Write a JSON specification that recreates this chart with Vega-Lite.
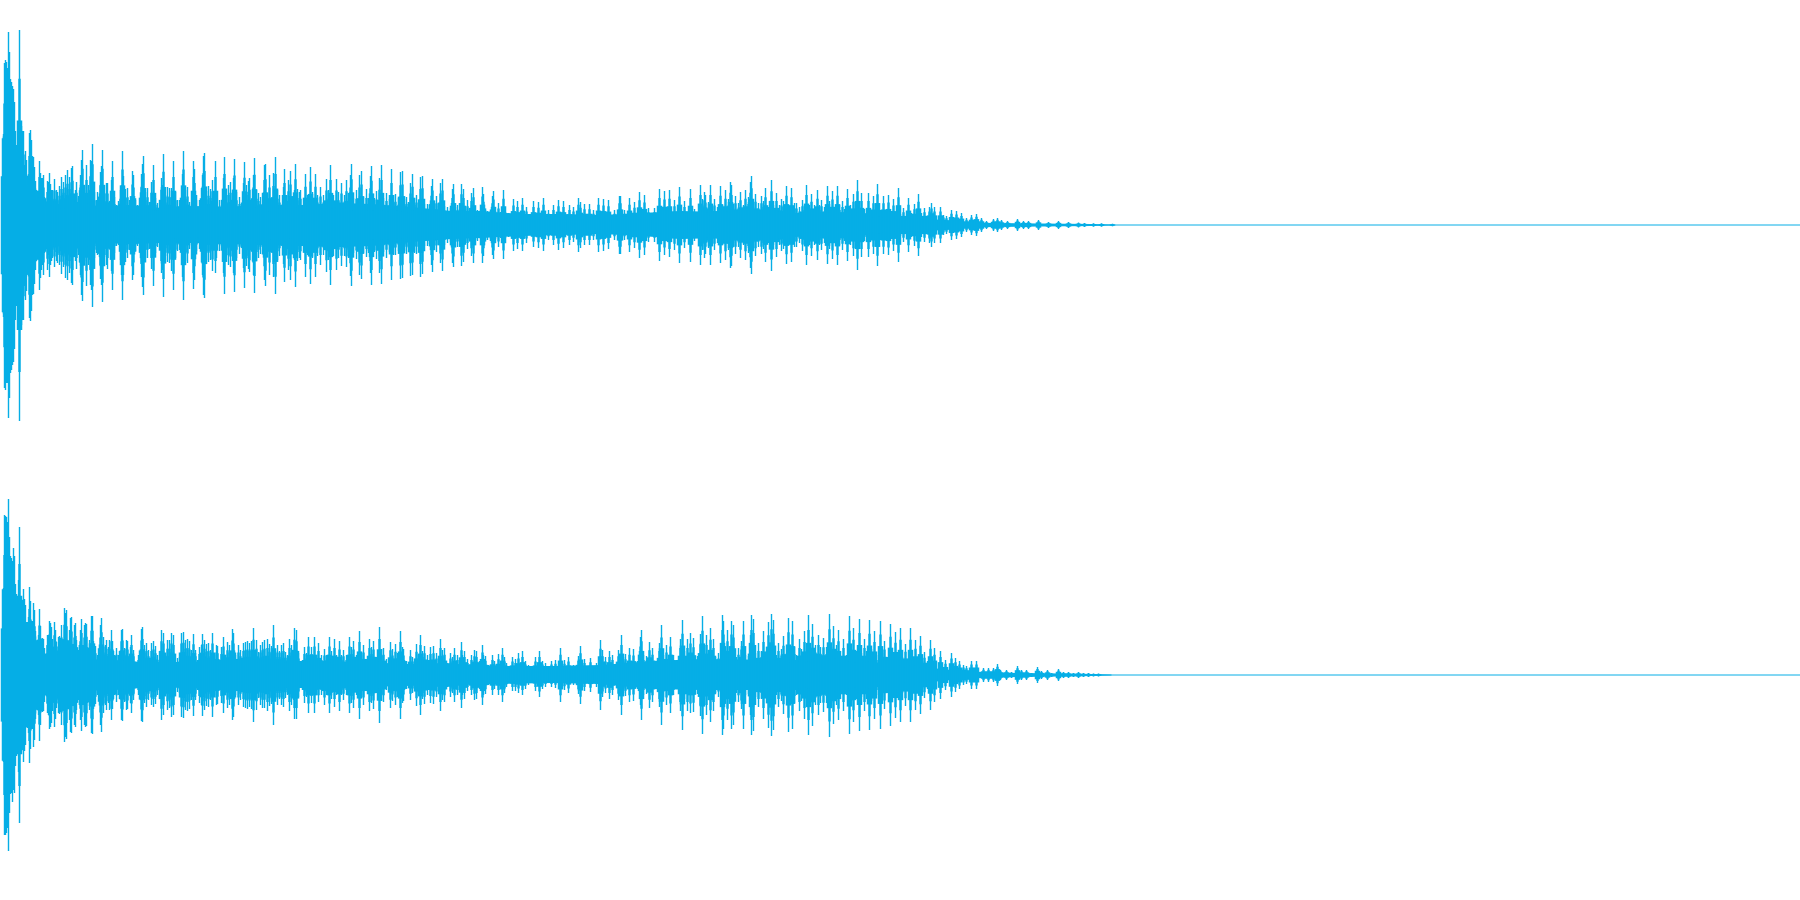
{"$schema":"https://vega.github.io/schema/vega-lite/v6.json","padding":0,"background":"#ffffff","spacing":0,"config":{"view":{"stroke":null},"concat":{"spacing":0}},
"datasets":{
"core1":[{"x":0,"h":1,"l":-1},{"x":1,"h":12,"l":-13},{"x":15,"h":40,"l":-40},{"x":30,"h":25,"l":-25},{"x":45,"h":19,"l":-19},{"x":70,"h":21,"l":-21},{"x":100,"h":19,"l":-18},{"x":130,"h":20,"l":-19},{"x":160,"h":17,"l":-18},{"x":190,"h":19,"l":-18},{"x":220,"h":18,"l":-19},{"x":260,"h":20,"l":-20},{"x":300,"h":20,"l":-21},{"x":340,"h":22,"l":-22},{"x":370,"h":21,"l":-21},{"x":410,"h":18,"l":-17},{"x":450,"h":14,"l":-14},{"x":480,"h":14,"l":-13},{"x":520,"h":11,"l":-11},{"x":560,"h":11,"l":-10},{"x":600,"h":10,"l":-9},{"x":640,"h":12,"l":-11},{"x":680,"h":14,"l":-14},{"x":720,"h":13,"l":-13},{"x":780,"h":12,"l":-11},{"x":840,"h":12,"l":-11},{"x":880,"h":11,"l":-10},{"x":910,"h":8,"l":-8},{"x":940,"h":5,"l":-5},{"x":960,"h":3,"l":-3},{"x":990,"h":2,"l":-2},{"x":1040,"h":1.5,"l":-1.5},{"x":1090,"h":1,"l":-1},{"x":1110,"h":0.5,"l":-0.5}],
"core2":[{"x":0,"h":1,"l":-1},{"x":1,"h":13,"l":-14},{"x":15,"h":40,"l":-40},{"x":30,"h":24,"l":-24},{"x":45,"h":14,"l":-14},{"x":70,"h":15,"l":-15},{"x":100,"h":14,"l":-14},{"x":150,"h":13,"l":-13},{"x":200,"h":13,"l":-12},{"x":250,"h":14,"l":-13},{"x":300,"h":14,"l":-13},{"x":350,"h":13,"l":-12},{"x":400,"h":11,"l":-11},{"x":450,"h":11,"l":-10},{"x":500,"h":9,"l":-9},{"x":550,"h":9,"l":-8},{"x":600,"h":10,"l":-9},{"x":650,"h":14,"l":-14},{"x":700,"h":16,"l":-15},{"x":780,"h":15,"l":-15},{"x":850,"h":15,"l":-14},{"x":890,"h":11,"l":-11},{"x":920,"h":8,"l":-8},{"x":950,"h":5,"l":-5},{"x":980,"h":3,"l":-3},{"x":1020,"h":2,"l":-2},{"x":1060,"h":1.5,"l":-1.5},{"x":1090,"h":1,"l":-1},{"x":1110,"h":0.5,"l":-0.5}],
"s1":[{"x":2,"h":91,"l":-92},{"x":3,"h":162,"l":-163},{"x":4,"h":165,"l":-165},{"x":5,"h":163,"l":-158},{"x":6,"h":157,"l":-158},{"x":7,"h":193,"l":-193},{"x":8,"h":173,"l":-173},{"x":9,"h":146,"l":-148},{"x":10,"h":143,"l":-145},{"x":11,"h":139,"l":-140},{"x":12,"h":136,"l":-137},{"x":13,"h":123,"l":-124},{"x":14,"h":94,"l":-95},{"x":15,"h":80,"l":-81},{"x":16,"h":73,"l":-74},{"x":17,"h":96,"l":-98},{"x":18,"h":195,"l":-196},{"x":19,"h":88,"l":-89},{"x":20,"h":99,"l":-100},{"x":21,"h":94,"l":-95},{"x":22,"h":94,"l":-95},{"x":23,"h":60,"l":-61},{"x":24,"h":74,"l":-75},{"x":25,"h":65,"l":-66},{"x":26,"h":40,"l":-41},{"x":27,"h":39,"l":-40},{"x":28,"h":92,"l":-93},{"x":29,"h":95,"l":-96},{"x":30,"h":85,"l":-86},{"x":31,"h":69,"l":-70},{"x":32,"h":68,"l":-69},{"x":33,"h":58,"l":-59},{"x":34,"h":44,"l":-45},{"x":35,"h":35,"l":-36},{"x":36,"h":25,"l":-26},{"x":37,"h":27,"l":-27},{"x":38,"h":64,"l":-65},{"x":39,"h":52,"l":-53},{"x":40,"h":47,"l":-45},{"x":41,"h":47,"l":-40},{"x":42,"h":50,"l":-50},{"x":43,"h":28,"l":-28},{"x":44,"h":18,"l":-18},{"x":46,"h":44,"l":-45},{"x":47,"h":43,"l":-30},{"x":48,"h":52,"l":-52},{"x":49,"h":41,"l":-40},{"x":50,"h":35,"l":-36},{"x":51,"h":35,"l":-33},{"x":53,"h":46,"l":-42},{"x":55,"h":35,"l":-36},{"x":56,"h":33,"l":-38},{"x":58,"h":39,"l":-40},{"x":60,"h":48,"l":-49},{"x":61,"h":30,"l":-30},{"x":62,"h":43,"l":-42},{"x":64,"h":50,"l":-53},{"x":65,"h":30,"l":-35},{"x":66,"h":55,"l":-55},{"x":68,"h":48,"l":-48},{"x":70,"h":57,"l":-58},{"x":71,"h":59,"l":-60},{"x":73,"h":23,"l":-23},{"x":74,"h":35,"l":-36},{"x":75,"h":43,"l":-44},{"x":77,"h":29,"l":-30},{"x":79,"h":50,"l":-50},{"x":80,"h":65,"l":-70},{"x":81,"h":75,"l":-76},{"x":83,"h":35,"l":-36},{"x":85,"h":60,"l":-61},{"x":87,"h":40,"l":-40},{"x":89,"h":65,"l":-60},{"x":90,"h":64,"l":-65},{"x":91,"h":81,"l":-82},{"x":93,"h":33,"l":-33},{"x":95,"h":25,"l":-28},{"x":96,"h":33,"l":-30},{"x":98,"h":20,"l":-24},{"x":99,"h":53,"l":-54},{"x":100,"h":59,"l":-60},{"x":101,"h":75,"l":-77},{"x":103,"h":32,"l":-32},{"x":105,"h":42,"l":-40},{"x":106,"h":42,"l":-44},{"x":108,"h":22,"l":-24},{"x":110,"h":45,"l":-46},{"x":111,"h":64,"l":-65},{"x":113,"h":28,"l":-28},{"x":115,"h":20,"l":-21},{"x":117,"h":24,"l":-20},{"x":119,"h":35,"l":-35},{"x":120,"h":40,"l":-50},{"x":121,"h":74,"l":-75},{"x":122,"h":49,"l":-50},{"x":124,"h":36,"l":-37},{"x":126,"h":37,"l":-33},{"x":128,"h":25,"l":-25},{"x":130,"h":25,"l":-25},{"x":131,"h":54,"l":-55},{"x":132,"h":50,"l":-50},{"x":134,"h":25,"l":-26},{"x":136,"h":20,"l":-21},{"x":138,"h":20,"l":-19},{"x":140,"h":51,"l":-52},{"x":141,"h":61,"l":-62},{"x":142,"h":69,"l":-70},{"x":144,"h":33,"l":-33},{"x":146,"h":37,"l":-33},{"x":148,"h":23,"l":-24},{"x":150,"h":43,"l":-44},{"x":152,"h":60,"l":-61},{"x":154,"h":27,"l":-28},{"x":156,"h":22,"l":-22},{"x":158,"h":17,"l":-18},{"x":160,"h":47,"l":-48},{"x":161,"h":40,"l":-45},{"x":162,"h":71,"l":-72},{"x":164,"h":30,"l":-31},{"x":166,"h":38,"l":-37},{"x":168,"h":37,"l":-38},{"x":170,"h":37,"l":-46},{"x":172,"h":64,"l":-65},{"x":174,"h":33,"l":-33},{"x":176,"h":25,"l":-26},{"x":178,"h":25,"l":-25},{"x":180,"h":14,"l":-15},{"x":181,"h":51,"l":-52},{"x":182,"h":74,"l":-75},{"x":184,"h":35,"l":-36},{"x":186,"h":38,"l":-38},{"x":188,"h":23,"l":-24},{"x":191,"h":22,"l":-22},{"x":192,"h":64,"l":-64},{"x":193,"h":56,"l":-55},{"x":195,"h":25,"l":-26},{"x":198,"h":25,"l":-24},{"x":201,"h":50,"l":-50},{"x":202,"h":69,"l":-70},{"x":203,"h":72,"l":-73},{"x":205,"h":34,"l":-35},{"x":207,"h":39,"l":-37},{"x":209,"h":36,"l":-35},{"x":211,"h":45,"l":-46},{"x":212,"h":24,"l":-24},{"x":214,"h":64,"l":-48},{"x":215,"h":33,"l":-33},{"x":218,"h":25,"l":-26},{"x":220,"h":20,"l":-21},{"x":222,"h":47,"l":-48},{"x":223,"h":68,"l":-69},{"x":225,"h":30,"l":-31},{"x":227,"h":40,"l":-40},{"x":229,"h":43,"l":-42},{"x":232,"h":47,"l":-48},{"x":233,"h":66,"l":-67},{"x":235,"h":33,"l":-33},{"x":238,"h":28,"l":-29},{"x":240,"h":18,"l":-19},{"x":242,"h":42,"l":-43},{"x":243,"h":63,"l":-63},{"x":245,"h":40,"l":-41},{"x":247,"h":44,"l":-44},{"x":248,"h":47,"l":-47},{"x":250,"h":25,"l":-26},{"x":252,"h":50,"l":-50},{"x":253,"h":67,"l":-68},{"x":255,"h":35,"l":-36},{"x":257,"h":32,"l":-33},{"x":259,"h":28,"l":-29},{"x":263,"h":60,"l":-55},{"x":264,"h":61,"l":-61},{"x":266,"h":31,"l":-32},{"x":268,"h":50,"l":-50},{"x":270,"h":26,"l":-27},{"x":272,"h":52,"l":-52},{"x":274,"h":68,"l":-69},{"x":276,"h":35,"l":-35},{"x":278,"h":30,"l":-31},{"x":280,"h":20,"l":-20},{"x":282,"h":38,"l":-39},{"x":283,"h":56,"l":-57},{"x":285,"h":30,"l":-30},{"x":287,"h":45,"l":-45},{"x":289,"h":54,"l":-55},{"x":291,"h":25,"l":-26},{"x":293,"h":35,"l":-35},{"x":294,"h":61,"l":-62},{"x":296,"h":36,"l":-36},{"x":298,"h":33,"l":-33},{"x":299,"h":35,"l":-35},{"x":304,"h":51,"l":-52},{"x":306,"h":30,"l":-30},{"x":309,"h":58,"l":-59},{"x":311,"h":33,"l":-33},{"x":314,"h":51,"l":-52},{"x":316,"h":30,"l":-31},{"x":319,"h":38,"l":-40},{"x":322,"h":30,"l":-30},{"x":325,"h":46,"l":-47},{"x":327,"h":35,"l":-35},{"x":329,"h":60,"l":-60},{"x":332,"h":30,"l":-31},{"x":335,"h":46,"l":-45},{"x":337,"h":33,"l":-33},{"x":340,"h":42,"l":-41},{"x":343,"h":30,"l":-31},{"x":345,"h":45,"l":-42},{"x":347,"h":32,"l":-33},{"x":349,"h":50,"l":-51},{"x":350,"h":61,"l":-61},{"x":352,"h":27,"l":-28},{"x":355,"h":35,"l":-34},{"x":358,"h":50,"l":-50},{"x":360,"h":54,"l":-54},{"x":362,"h":28,"l":-28},{"x":365,"h":36,"l":-32},{"x":367,"h":27,"l":-28},{"x":369,"h":49,"l":-48},{"x":370,"h":59,"l":-60},{"x":373,"h":27,"l":-27},{"x":375,"h":34,"l":-34},{"x":378,"h":47,"l":-48},{"x":380,"h":60,"l":-59},{"x":382,"h":27,"l":-27},{"x":385,"h":32,"l":-33},{"x":388,"h":26,"l":-27},{"x":390,"h":56,"l":-55},{"x":392,"h":30,"l":-30},{"x":394,"h":31,"l":-30},{"x":397,"h":27,"l":-26},{"x":399,"h":53,"l":-54},{"x":401,"h":54,"l":-53},{"x":403,"h":26,"l":-26},{"x":405,"h":28,"l":-29},{"x":407,"h":23,"l":-23},{"x":409,"h":42,"l":-51},{"x":411,"h":51,"l":-50},{"x":413,"h":27,"l":-28},{"x":415,"h":30,"l":-29},{"x":418,"h":22,"l":-22},{"x":419,"h":48,"l":-52},{"x":421,"h":49,"l":-49},{"x":423,"h":21,"l":-21},{"x":426,"h":21,"l":-21},{"x":428,"h":20,"l":-19},{"x":430,"h":39,"l":-40},{"x":431,"h":46,"l":-47},{"x":433,"h":21,"l":-21},{"x":435,"h":29,"l":-27},{"x":437,"h":19,"l":-19},{"x":439,"h":42,"l":-38},{"x":441,"h":46,"l":-46},{"x":443,"h":19,"l":-20},{"x":446,"h":18,"l":-18},{"x":449,"h":17,"l":-17},{"x":451,"h":36,"l":-38},{"x":452,"h":41,"l":-42},{"x":454,"h":18,"l":-17},{"x":456,"h":20,"l":-22},{"x":458,"h":16,"l":-16},{"x":460,"h":41,"l":-41},{"x":462,"h":36,"l":-37},{"x":464,"h":16,"l":-16},{"x":466,"h":25,"l":-24},{"x":468,"h":16,"l":-15},{"x":470,"h":32,"l":-31},{"x":472,"h":37,"l":-38},{"x":474,"h":15,"l":-15},{"x":476,"h":15,"l":-16},{"x":479,"h":15,"l":-14},{"x":481,"h":38,"l":-38},{"x":482,"h":31,"l":-31},{"x":484,"h":15,"l":-15},{"x":486,"h":14,"l":-15},{"x":489,"h":14,"l":-14},{"x":491,"h":29,"l":-30},{"x":492,"h":34,"l":-34},{"x":494,"h":14,"l":-14},{"x":497,"h":22,"l":-22},{"x":499,"h":13,"l":-13},{"x":502,"h":35,"l":-34},{"x":504,"h":13,"l":-13},{"x":507,"h":12,"l":-12},{"x":512,"h":26,"l":-26},{"x":514,"h":13,"l":-13},{"x":516,"h":24,"l":-24},{"x":519,"h":13,"l":-13},{"x":521,"h":27,"l":-26},{"x":525,"h":18,"l":-18},{"x":532,"h":24,"l":-22},{"x":537,"h":23,"l":-23},{"x":542,"h":27,"l":-26},{"x":547,"h":15,"l":-15},{"x":552,"h":20,"l":-20},{"x":557,"h":25,"l":-25},{"x":562,"h":24,"l":-23},{"x":568,"h":20,"l":-20},{"x":572,"h":18,"l":-17},{"x":577,"h":27,"l":-27},{"x":579,"h":23,"l":-23},{"x":583,"h":21,"l":-20},{"x":588,"h":21,"l":-20},{"x":592,"h":15,"l":-15},{"x":597,"h":27,"l":-27},{"x":602,"h":26,"l":-26},{"x":607,"h":25,"l":-24},{"x":613,"h":15,"l":-15},{"x":618,"h":29,"l":-29},{"x":619,"h":29,"l":-29},{"x":623,"h":15,"l":-15},{"x":628,"h":27,"l":-27},{"x":633,"h":23,"l":-23},{"x":638,"h":33,"l":-33},{"x":643,"h":30,"l":-30},{"x":647,"h":17,"l":-17},{"x":653,"h":17,"l":-17},{"x":658,"h":36,"l":-36},{"x":663,"h":34,"l":-30},{"x":668,"h":35,"l":-32},{"x":673,"h":25,"l":-25},{"x":678,"h":38,"l":-38},{"x":683,"h":24,"l":-23},{"x":689,"h":36,"l":-37},{"x":693,"h":16,"l":-16},{"x":699,"h":40,"l":-40},{"x":701,"h":26,"l":-25},{"x":703,"h":33,"l":-33},{"x":704,"h":30,"l":-29},{"x":707,"h":23,"l":-23},{"x":709,"h":40,"l":-40},{"x":711,"h":18,"l":-18},{"x":713,"h":26,"l":-25},{"x":716,"h":18,"l":-18},{"x":719,"h":39,"l":-38},{"x":721,"h":20,"l":-20},{"x":724,"h":35,"l":-35},{"x":727,"h":26,"l":-25},{"x":729,"h":43,"l":-43},{"x":730,"h":40,"l":-41},{"x":732,"h":17,"l":-18},{"x":734,"h":29,"l":-29},{"x":737,"h":22,"l":-22},{"x":739,"h":33,"l":-33},{"x":742,"h":20,"l":-20},{"x":744,"h":35,"l":-35},{"x":747,"h":28,"l":-28},{"x":749,"h":43,"l":-43},{"x":750,"h":49,"l":-49},{"x":752,"h":18,"l":-18},{"x":754,"h":31,"l":-31},{"x":757,"h":22,"l":-22},{"x":760,"h":29,"l":-29},{"x":762,"h":24,"l":-24},{"x":764,"h":37,"l":-37},{"x":767,"h":18,"l":-18},{"x":770,"h":45,"l":-46},{"x":772,"h":20,"l":-20},{"x":775,"h":32,"l":-32},{"x":778,"h":20,"l":-20},{"x":780,"h":26,"l":-26},{"x":782,"h":24,"l":-24},{"x":785,"h":39,"l":-39},{"x":787,"h":20,"l":-20},{"x":790,"h":37,"l":-37},{"x":793,"h":22,"l":-22},{"x":795,"h":22,"l":-22},{"x":798,"h":18,"l":-18},{"x":801,"h":25,"l":-26},{"x":803,"h":20,"l":-20},{"x":805,"h":40,"l":-40},{"x":808,"h":20,"l":-20},{"x":810,"h":31,"l":-31},{"x":813,"h":20,"l":-20},{"x":816,"h":35,"l":-35},{"x":818,"h":20,"l":-20},{"x":820,"h":25,"l":-25},{"x":823,"h":18,"l":-18},{"x":826,"h":39,"l":-39},{"x":828,"h":24,"l":-24},{"x":831,"h":34,"l":-34},{"x":834,"h":18,"l":-18},{"x":836,"h":39,"l":-40},{"x":838,"h":20,"l":-20},{"x":841,"h":24,"l":-25},{"x":843,"h":16,"l":-16},{"x":846,"h":36,"l":-36},{"x":849,"h":20,"l":-20},{"x":852,"h":31,"l":-31},{"x":854,"h":16,"l":-16},{"x":856,"h":45,"l":-45},{"x":858,"h":18,"l":-18},{"x":860,"h":32,"l":-32},{"x":863,"h":16,"l":-16},{"x":867,"h":32,"l":-32},{"x":869,"h":15,"l":-15},{"x":872,"h":29,"l":-29},{"x":874,"h":14,"l":-14},{"x":876,"h":41,"l":-41},{"x":879,"h":15,"l":-15},{"x":882,"h":29,"l":-29},{"x":884,"h":14,"l":-14},{"x":887,"h":30,"l":-30},{"x":890,"h":14,"l":-14},{"x":892,"h":26,"l":-26},{"x":894,"h":12,"l":-12},{"x":897,"h":37,"l":-37},{"x":899,"h":11,"l":-11},{"x":902,"h":17,"l":-17},{"x":907,"h":27,"l":-27},{"x":910,"h":12,"l":-12},{"x":913,"h":21,"l":-21},{"x":917,"h":31,"l":-31},{"x":920,"h":12,"l":-12},{"x":923,"h":17,"l":-17},{"x":928,"h":18,"l":-18},{"x":930,"h":22,"l":-22},{"x":933,"h":18,"l":-18},{"x":939,"h":18,"l":-18},{"x":942,"h":10,"l":-10},{"x":945,"h":9,"l":-9},{"x":950,"h":15,"l":-15},{"x":955,"h":14,"l":-14},{"x":960,"h":12,"l":-12},{"x":965,"h":7,"l":-7},{"x":970,"h":10,"l":-10},{"x":975,"h":11,"l":-11},{"x":980,"h":7,"l":-7},{"x":985,"h":4,"l":-4},{"x":992,"h":6,"l":-6},{"x":996,"h":7,"l":-7},{"x":1000,"h":5,"l":-5},{"x":1006,"h":4,"l":-4},{"x":1016,"h":6,"l":-6},{"x":1022,"h":4,"l":-4},{"x":1027,"h":4,"l":-4},{"x":1037,"h":5,"l":-5},{"x":1047,"h":3,"l":-3},{"x":1057,"h":4,"l":-4},{"x":1067,"h":3,"l":-3},{"x":1077,"h":2.5,"l":-2.5},{"x":1083,"h":2,"l":-2},{"x":1092,"h":1.7,"l":-1.7},{"x":1100,"h":1.7,"l":-1.7},{"x":1111,"h":1.3,"l":-1.3}],
"s2":[{"x":2,"h":87,"l":-87},{"x":3,"h":160,"l":-160},{"x":4,"h":159,"l":-160},{"x":5,"h":158,"l":-158},{"x":6,"h":153,"l":-153},{"x":7,"h":176,"l":-176},{"x":8,"h":138,"l":-138},{"x":9,"h":119,"l":-119},{"x":10,"h":117,"l":-118},{"x":11,"h":114,"l":-127},{"x":12,"h":127,"l":-115},{"x":13,"h":119,"l":-118},{"x":14,"h":91,"l":-91},{"x":15,"h":81,"l":-81},{"x":16,"h":72,"l":-73},{"x":17,"h":95,"l":-97},{"x":18,"h":148,"l":-148},{"x":19,"h":72,"l":-72},{"x":20,"h":76,"l":-76},{"x":21,"h":75,"l":-75},{"x":22,"h":86,"l":-87},{"x":23,"h":76,"l":-76},{"x":24,"h":70,"l":-70},{"x":25,"h":53,"l":-52},{"x":26,"h":53,"l":-53},{"x":27,"h":58,"l":-58},{"x":28,"h":88,"l":-88},{"x":29,"h":74,"l":-74},{"x":30,"h":54,"l":-54},{"x":31,"h":54,"l":-54},{"x":32,"h":72,"l":-72},{"x":33,"h":65,"l":-65},{"x":34,"h":44,"l":-44},{"x":35,"h":32,"l":-32},{"x":36,"h":33,"l":-33},{"x":37,"h":40,"l":-40},{"x":38,"h":66,"l":-66},{"x":39,"h":49,"l":-50},{"x":40,"h":36,"l":-36},{"x":41,"h":37,"l":-37},{"x":42,"h":36,"l":-36},{"x":43,"h":27,"l":-27},{"x":44,"h":20,"l":-20},{"x":46,"h":40,"l":-38},{"x":47,"h":40,"l":-40},{"x":48,"h":54,"l":-54},{"x":49,"h":52,"l":-52},{"x":50,"h":48,"l":-48},{"x":51,"h":36,"l":-36},{"x":52,"h":27,"l":-27},{"x":53,"h":53,"l":-52},{"x":54,"h":45,"l":-44},{"x":55,"h":33,"l":-33},{"x":57,"h":38,"l":-38},{"x":58,"h":39,"l":-39},{"x":59,"h":37,"l":-37},{"x":60,"h":50,"l":-50},{"x":61,"h":28,"l":-28},{"x":62,"h":27,"l":-27},{"x":63,"h":67,"l":-67},{"x":64,"h":62,"l":-62},{"x":65,"h":65,"l":-64},{"x":66,"h":30,"l":-30},{"x":67,"h":30,"l":-30},{"x":68,"h":45,"l":-45},{"x":69,"h":57,"l":-57},{"x":70,"h":58,"l":-58},{"x":72,"h":23,"l":-23},{"x":73,"h":50,"l":-50},{"x":74,"h":52,"l":-52},{"x":75,"h":35,"l":-35},{"x":77,"h":25,"l":-25},{"x":78,"h":30,"l":-30},{"x":79,"h":45,"l":-45},{"x":80,"h":56,"l":-56},{"x":82,"h":30,"l":-30},{"x":83,"h":50,"l":-50},{"x":84,"h":52,"l":-52},{"x":85,"h":51,"l":-51},{"x":88,"h":35,"l":-35},{"x":89,"h":22,"l":-22},{"x":90,"h":59,"l":-58},{"x":91,"h":59,"l":-59},{"x":92,"h":34,"l":-34},{"x":94,"h":29,"l":-29},{"x":96,"h":20,"l":-20},{"x":98,"h":24,"l":-24},{"x":99,"h":50,"l":-50},{"x":100,"h":57,"l":-57},{"x":102,"h":38,"l":-38},{"x":104,"h":30,"l":-30},{"x":105,"h":35,"l":-35},{"x":107,"h":28,"l":-28},{"x":108,"h":35,"l":-35},{"x":110,"h":45,"l":-45},{"x":111,"h":34,"l":-34},{"x":113,"h":20,"l":-20},{"x":114,"h":19,"l":-19},{"x":115,"h":27,"l":-27},{"x":117,"h":20,"l":-20},{"x":119,"h":22,"l":-22},{"x":120,"h":45,"l":-45},{"x":121,"h":46,"l":-46},{"x":123,"h":27,"l":-27},{"x":125,"h":35,"l":-35},{"x":126,"h":34,"l":-34},{"x":128,"h":18,"l":-18},{"x":129,"h":28,"l":-28},{"x":130,"h":40,"l":-38},{"x":132,"h":25,"l":-25},{"x":137,"h":20,"l":-20},{"x":140,"h":46,"l":-46},{"x":141,"h":48,"l":-47},{"x":143,"h":30,"l":-28},{"x":145,"h":32,"l":-32},{"x":147,"h":25,"l":-25},{"x":150,"h":32,"l":-30},{"x":152,"h":34,"l":-32},{"x":154,"h":29,"l":-29},{"x":156,"h":20,"l":-20},{"x":160,"h":45,"l":-45},{"x":162,"h":42,"l":-40},{"x":164,"h":20,"l":-20},{"x":166,"h":35,"l":-35},{"x":168,"h":35,"l":-33},{"x":170,"h":42,"l":-42},{"x":172,"h":40,"l":-40},{"x":176,"h":17,"l":-17},{"x":178,"h":18,"l":-18},{"x":180,"h":42,"l":-42},{"x":182,"h":43,"l":-43},{"x":184,"h":35,"l":-35},{"x":186,"h":36,"l":-36},{"x":188,"h":34,"l":-34},{"x":190,"h":25,"l":-25},{"x":192,"h":41,"l":-41},{"x":194,"h":25,"l":-25},{"x":198,"h":28,"l":-28},{"x":200,"h":30,"l":-30},{"x":201,"h":41,"l":-41},{"x":203,"h":35,"l":-35},{"x":205,"h":31,"l":-31},{"x":207,"h":32,"l":-32},{"x":209,"h":25,"l":-25},{"x":211,"h":42,"l":-42},{"x":213,"h":20,"l":-20},{"x":215,"h":30,"l":-30},{"x":216,"h":29,"l":-29},{"x":220,"h":28,"l":-28},{"x":222,"h":38,"l":-38},{"x":224,"h":20,"l":-20},{"x":226,"h":33,"l":-33},{"x":228,"h":30,"l":-30},{"x":231,"h":46,"l":-45},{"x":232,"h":42,"l":-42},{"x":234,"h":20,"l":-20},{"x":237,"h":30,"l":-30},{"x":239,"h":25,"l":-25},{"x":242,"h":32,"l":-32},{"x":244,"h":33,"l":-33},{"x":246,"h":34,"l":-34},{"x":248,"h":32,"l":-32},{"x":250,"h":34,"l":-34},{"x":252,"h":47,"l":-47},{"x":255,"h":35,"l":-35},{"x":257,"h":23,"l":-23},{"x":259,"h":30,"l":-30},{"x":261,"h":33,"l":-33},{"x":263,"h":35,"l":-33},{"x":266,"h":36,"l":-36},{"x":268,"h":31,"l":-31},{"x":270,"h":29,"l":-29},{"x":272,"h":50,"l":-50},{"x":274,"h":24,"l":-24},{"x":276,"h":30,"l":-30},{"x":278,"h":24,"l":-24},{"x":280,"h":30,"l":-30},{"x":282,"h":32,"l":-32},{"x":284,"h":23,"l":-23},{"x":286,"h":20,"l":-20},{"x":288,"h":36,"l":-36},{"x":290,"h":30,"l":-30},{"x":292,"h":25,"l":-25},{"x":293,"h":47,"l":-44},{"x":295,"h":45,"l":-44},{"x":297,"h":22,"l":-22},{"x":303,"h":28,"l":-28},{"x":305,"h":22,"l":-22},{"x":307,"h":38,"l":-38},{"x":310,"h":28,"l":-28},{"x":313,"h":38,"l":-38},{"x":315,"h":20,"l":-20},{"x":317,"h":32,"l":-27},{"x":320,"h":20,"l":-20},{"x":323,"h":26,"l":-30},{"x":325,"h":20,"l":-20},{"x":328,"h":38,"l":-38},{"x":330,"h":24,"l":-24},{"x":333,"h":36,"l":-32},{"x":335,"h":20,"l":-20},{"x":338,"h":34,"l":-36},{"x":340,"h":20,"l":-20},{"x":342,"h":25,"l":-25},{"x":345,"h":20,"l":-20},{"x":348,"h":38,"l":-38},{"x":350,"h":28,"l":-28},{"x":352,"h":34,"l":-33},{"x":355,"h":20,"l":-20},{"x":358,"h":44,"l":-44},{"x":360,"h":20,"l":-20},{"x":362,"h":30,"l":-30},{"x":365,"h":16,"l":-16},{"x":368,"h":36,"l":-36},{"x":370,"h":28,"l":-28},{"x":372,"h":34,"l":-34},{"x":375,"h":18,"l":-18},{"x":378,"h":48,"l":-48},{"x":380,"h":26,"l":-26},{"x":382,"h":27,"l":-27},{"x":385,"h":16,"l":-15},{"x":389,"h":33,"l":-33},{"x":391,"h":26,"l":-26},{"x":394,"h":31,"l":-30},{"x":396,"h":22,"l":-22},{"x":399,"h":44,"l":-44},{"x":401,"h":28,"l":-28},{"x":402,"h":26,"l":-26},{"x":405,"h":14,"l":-14},{"x":409,"h":25,"l":-25},{"x":411,"h":18,"l":-18},{"x":415,"h":31,"l":-31},{"x":417,"h":20,"l":-20},{"x":419,"h":40,"l":-40},{"x":421,"h":24,"l":-24},{"x":423,"h":29,"l":-29},{"x":426,"h":20,"l":-20},{"x":429,"h":28,"l":-28},{"x":432,"h":29,"l":-29},{"x":435,"h":22,"l":-22},{"x":439,"h":36,"l":-36},{"x":441,"h":25,"l":-25},{"x":443,"h":27,"l":-27},{"x":446,"h":12,"l":-12},{"x":449,"h":22,"l":-22},{"x":451,"h":18,"l":-18},{"x":453,"h":27,"l":-27},{"x":456,"h":20,"l":-20},{"x":460,"h":33,"l":-33},{"x":461,"h":20,"l":-20},{"x":463,"h":24,"l":-24},{"x":466,"h":16,"l":-16},{"x":470,"h":20,"l":-20},{"x":473,"h":25,"l":-25},{"x":475,"h":24,"l":-24},{"x":478,"h":14,"l":-14},{"x":481,"h":30,"l":-30},{"x":482,"h":20,"l":-20},{"x":484,"h":19,"l":-19},{"x":487,"h":10,"l":-10},{"x":491,"h":20,"l":-20},{"x":493,"h":14,"l":-14},{"x":497,"h":21,"l":-20},{"x":499,"h":14,"l":-14},{"x":501,"h":27,"l":-27},{"x":503,"h":18,"l":-18},{"x":505,"h":12,"l":-12},{"x":511,"h":18,"l":-16},{"x":514,"h":16,"l":-16},{"x":517,"h":22,"l":-18},{"x":521,"h":24,"l":-20},{"x":524,"h":14,"l":-14},{"x":527,"h":10,"l":-10},{"x":534,"h":18,"l":-16},{"x":538,"h":24,"l":-22},{"x":541,"h":14,"l":-14},{"x":544,"h":12,"l":-12},{"x":550,"h":14,"l":-12},{"x":554,"h":15,"l":-13},{"x":559,"h":27,"l":-27},{"x":563,"h":15,"l":-15},{"x":567,"h":18,"l":-18},{"x":572,"h":10,"l":-10},{"x":577,"h":19,"l":-19},{"x":579,"h":29,"l":-29},{"x":583,"h":16,"l":-16},{"x":589,"h":17,"l":-17},{"x":595,"h":12,"l":-12},{"x":599,"h":35,"l":-35},{"x":601,"h":25,"l":-22},{"x":604,"h":18,"l":-18},{"x":608,"h":24,"l":-24},{"x":611,"h":20,"l":-20},{"x":615,"h":10,"l":-8},{"x":617,"h":25,"l":-25},{"x":620,"h":40,"l":-40},{"x":622,"h":18,"l":-18},{"x":624,"h":21,"l":-21},{"x":628,"h":27,"l":-27},{"x":632,"h":26,"l":-26},{"x":636,"h":14,"l":-14},{"x":639,"h":38,"l":-30},{"x":640,"h":45,"l":-45},{"x":642,"h":20,"l":-20},{"x":645,"h":19,"l":-19},{"x":648,"h":33,"l":-33},{"x":651,"h":27,"l":-27},{"x":655,"h":14,"l":-14},{"x":658,"h":32,"l":-32},{"x":660,"h":50,"l":-50},{"x":662,"h":20,"l":-22},{"x":665,"h":30,"l":-30},{"x":669,"h":38,"l":-38},{"x":672,"h":20,"l":-20},{"x":675,"h":14,"l":-14},{"x":679,"h":36,"l":-36},{"x":681,"h":55,"l":-55},{"x":683,"h":24,"l":-24},{"x":686,"h":36,"l":-36},{"x":689,"h":42,"l":-38},{"x":692,"h":37,"l":-37},{"x":696,"h":19,"l":-19},{"x":699,"h":41,"l":-41},{"x":701,"h":59,"l":-59},{"x":703,"h":20,"l":-22},{"x":705,"h":40,"l":-40},{"x":707,"h":25,"l":-25},{"x":709,"h":47,"l":-47},{"x":711,"h":25,"l":-25},{"x":712,"h":36,"l":-36},{"x":714,"h":18,"l":-18},{"x":717,"h":22,"l":-22},{"x":719,"h":14,"l":-14},{"x":721,"h":60,"l":-60},{"x":722,"h":54,"l":-54},{"x":724,"h":25,"l":-25},{"x":726,"h":45,"l":-45},{"x":728,"h":20,"l":-20},{"x":730,"h":54,"l":-54},{"x":732,"h":50,"l":-50},{"x":735,"h":18,"l":-18},{"x":737,"h":27,"l":-27},{"x":740,"h":34,"l":-34},{"x":742,"h":54,"l":-54},{"x":744,"h":20,"l":-20},{"x":747,"h":19,"l":-19},{"x":749,"h":40,"l":-40},{"x":750,"h":60,"l":-60},{"x":752,"h":56,"l":-56},{"x":754,"h":22,"l":-22},{"x":757,"h":32,"l":-32},{"x":760,"h":24,"l":-24},{"x":762,"h":44,"l":-44},{"x":765,"h":22,"l":-22},{"x":767,"h":53,"l":-53},{"x":769,"h":26,"l":-26},{"x":770,"h":61,"l":-61},{"x":772,"h":55,"l":-55},{"x":775,"h":20,"l":-20},{"x":777,"h":32,"l":-32},{"x":780,"h":26,"l":-26},{"x":782,"h":39,"l":-39},{"x":785,"h":22,"l":-22},{"x":787,"h":57,"l":-57},{"x":789,"h":24,"l":-24},{"x":791,"h":54,"l":-54},{"x":793,"h":28,"l":-28},{"x":795,"h":20,"l":-20},{"x":798,"h":36,"l":-36},{"x":800,"h":26,"l":-26},{"x":803,"h":44,"l":-44},{"x":805,"h":24,"l":-24},{"x":807,"h":60,"l":-60},{"x":809,"h":26,"l":-26},{"x":811,"h":51,"l":-51},{"x":814,"h":30,"l":-30},{"x":817,"h":40,"l":-40},{"x":819,"h":28,"l":-28},{"x":822,"h":37,"l":-37},{"x":825,"h":28,"l":-28},{"x":828,"h":61,"l":-62},{"x":830,"h":28,"l":-28},{"x":832,"h":49,"l":-49},{"x":835,"h":30,"l":-30},{"x":837,"h":45,"l":-45},{"x":840,"h":18,"l":-18},{"x":842,"h":36,"l":-36},{"x":845,"h":20,"l":-20},{"x":848,"h":59,"l":-59},{"x":850,"h":26,"l":-26},{"x":852,"h":47,"l":-47},{"x":855,"h":24,"l":-24},{"x":858,"h":56,"l":-56},{"x":860,"h":22,"l":-22},{"x":863,"h":36,"l":-36},{"x":865,"h":24,"l":-24},{"x":868,"h":55,"l":-55},{"x":870,"h":26,"l":-26},{"x":873,"h":44,"l":-44},{"x":875,"h":20,"l":-20},{"x":879,"h":54,"l":-54},{"x":881,"h":22,"l":-22},{"x":883,"h":34,"l":-34},{"x":886,"h":18,"l":-18},{"x":889,"h":51,"l":-51},{"x":891,"h":20,"l":-20},{"x":894,"h":43,"l":-43},{"x":896,"h":20,"l":-20},{"x":899,"h":47,"l":-47},{"x":901,"h":18,"l":-18},{"x":904,"h":31,"l":-31},{"x":906,"h":14,"l":-14},{"x":909,"h":47,"l":-47},{"x":911,"h":18,"l":-18},{"x":914,"h":35,"l":-35},{"x":916,"h":18,"l":-18},{"x":919,"h":39,"l":-39},{"x":921,"h":14,"l":-14},{"x":923,"h":23,"l":-23},{"x":926,"h":14,"l":-14},{"x":929,"h":35,"l":-35},{"x":931,"h":14,"l":-14},{"x":933,"h":27,"l":-27},{"x":939,"h":24,"l":-24},{"x":944,"h":15,"l":-15},{"x":950,"h":22,"l":-22},{"x":954,"h":17,"l":-17},{"x":958,"h":14,"l":-14},{"x":962,"h":10,"l":-10},{"x":965,"h":9,"l":-9},{"x":970,"h":14,"l":-14},{"x":975,"h":14,"l":-14},{"x":982,"h":7,"l":-7},{"x":987,"h":7,"l":-7},{"x":992,"h":7,"l":-7},{"x":996,"h":11,"l":-11},{"x":999,"h":5,"l":-5},{"x":1005,"h":5,"l":-5},{"x":1010,"h":3,"l":-3},{"x":1016,"h":9,"l":-9},{"x":1020,"h":5,"l":-5},{"x":1025,"h":5,"l":-5},{"x":1030,"h":2,"l":-2},{"x":1036,"h":8,"l":-8},{"x":1040,"h":4,"l":-4},{"x":1046,"h":5,"l":-5},{"x":1050,"h":2,"l":-2},{"x":1057,"h":6,"l":-6},{"x":1062,"h":3,"l":-3},{"x":1067,"h":3,"l":-3},{"x":1072,"h":2,"l":-2},{"x":1077,"h":3,"l":-3},{"x":1082,"h":2,"l":-2},{"x":1087,"h":2,"l":-2},{"x":1092,"h":1.5,"l":-1.5},{"x":1097,"h":1.5,"l":-1.5}],
"base":[{"x":0,"x2":1800,"y":0}]
},
"vconcat":[
{"width":1800,"height":450,"resolve":{"scale":{"y":"independent"}},"layer":[
{"data":{"name":"base"},"mark":{"type":"rule","color":"#06aee6","strokeWidth":1},"encoding":{"x":{"field":"x","type":"quantitative","scale":{"domain":[-0.5,1799.5]},"axis":null},"x2":{"field":"x2"},"y":{"field":"y","type":"quantitative","scale":{"domain":[-225,225]},"axis":null}}},
{"data":{"name":"core1"},"mark":{"type":"area","color":"#06aee6","opacity":1},"encoding":{"x":{"field":"x","type":"quantitative","scale":{"domain":[-0.5,1799.5]},"axis":null},"y":{"field":"h","type":"quantitative","scale":{"domain":[-225,225]},"axis":null},"y2":{"field":"l"}}},
{"data":{"name":"s1"},"mark":{"type":"rule","color":"#06aee6","strokeWidth":5.5},"encoding":{"x":{"field":"x","type":"quantitative","scale":{"domain":[-0.5,1799.5]},"axis":null},"y":{"field":"h","type":"quantitative","scale":{"domain":[-420,420]},"axis":null},"y2":{"field":"l"}}},
{"data":{"name":"s1"},"mark":{"type":"rule","color":"#06aee6","strokeWidth":2.4},"encoding":{"x":{"field":"x","type":"quantitative","scale":{"domain":[-0.5,1799.5]},"axis":null},"y":{"field":"h","type":"quantitative","scale":{"domain":[-300,300]},"axis":null},"y2":{"field":"l"}}},
{"data":{"name":"s1"},"mark":{"type":"rule","color":"#06aee6","strokeWidth":1.4},"encoding":{"x":{"field":"x","type":"quantitative","scale":{"domain":[-0.5,1799.5]},"axis":null},"y":{"field":"h","type":"quantitative","scale":{"domain":[-225,225]},"axis":null},"y2":{"field":"l"}}}
]},
{"width":1800,"height":450,"resolve":{"scale":{"y":"independent"}},"layer":[
{"data":{"name":"base"},"mark":{"type":"rule","color":"#06aee6","strokeWidth":1},"encoding":{"x":{"field":"x","type":"quantitative","scale":{"domain":[-0.5,1799.5]},"axis":null},"x2":{"field":"x2"},"y":{"field":"y","type":"quantitative","scale":{"domain":[-225,225]},"axis":null}}},
{"data":{"name":"core2"},"mark":{"type":"area","color":"#06aee6","opacity":1},"encoding":{"x":{"field":"x","type":"quantitative","scale":{"domain":[-0.5,1799.5]},"axis":null},"y":{"field":"h","type":"quantitative","scale":{"domain":[-225,225]},"axis":null},"y2":{"field":"l"}}},
{"data":{"name":"s2"},"mark":{"type":"rule","color":"#06aee6","strokeWidth":5.5},"encoding":{"x":{"field":"x","type":"quantitative","scale":{"domain":[-0.5,1799.5]},"axis":null},"y":{"field":"h","type":"quantitative","scale":{"domain":[-420,420]},"axis":null},"y2":{"field":"l"}}},
{"data":{"name":"s2"},"mark":{"type":"rule","color":"#06aee6","strokeWidth":2.4},"encoding":{"x":{"field":"x","type":"quantitative","scale":{"domain":[-0.5,1799.5]},"axis":null},"y":{"field":"h","type":"quantitative","scale":{"domain":[-300,300]},"axis":null},"y2":{"field":"l"}}},
{"data":{"name":"s2"},"mark":{"type":"rule","color":"#06aee6","strokeWidth":1.4},"encoding":{"x":{"field":"x","type":"quantitative","scale":{"domain":[-0.5,1799.5]},"axis":null},"y":{"field":"h","type":"quantitative","scale":{"domain":[-225,225]},"axis":null},"y2":{"field":"l"}}}
]}
]}
